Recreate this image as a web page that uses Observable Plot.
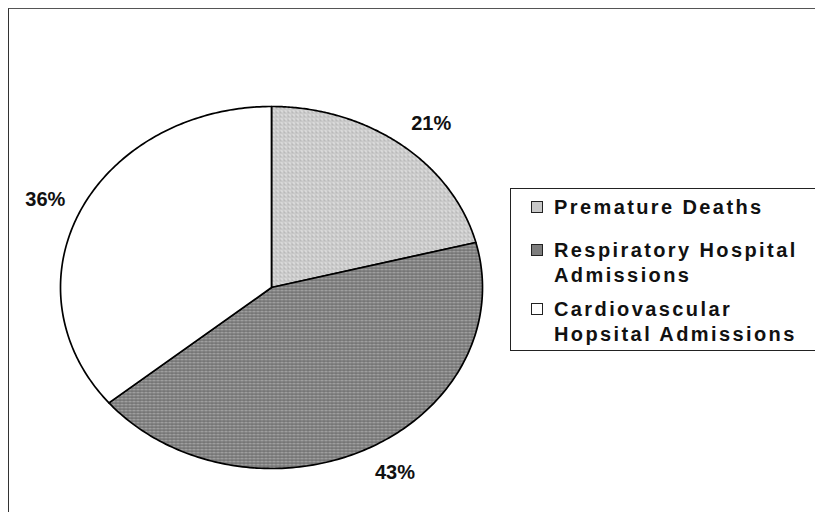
<!DOCTYPE html>
<html>
<head>
<meta charset="utf-8">
<script src="https://cdn.jsdelivr.net/npm/d3@7"></script>
<script src="https://cdn.jsdelivr.net/npm/@observablehq/plot@0.6"></script>
<style>
  html, body { margin: 0; padding: 0; background: #fff; }
  #wrap { position: relative; width: 815px; height: 512px; overflow: hidden; font-family: "Liberation Sans", Arial, sans-serif; }
  #frame { position: absolute; left: 8px; top: 8px; width: 900px; height: 600px; border-left: 1px solid #333; border-top: 1px solid #555; box-sizing: border-box; }
  #chart { position: absolute; left: 0; top: 0; }
  #legend { position: absolute; left: 510px; top: 188px; width: 330px; height: 163px; border: 1px solid #222; box-sizing: border-box; background: #fff; }
  .item { position: absolute; left: 20px; font-weight: bold; font-size: 20px; letter-spacing: 2.4px; color: #111; line-height: 25px; white-space: nowrap; }
  .sw { display: inline-block; width: 10px; height: 10px; border: 1px solid #222; margin-right: 11px; vertical-align: 1px; }
</style>
</head>
<body>
<div id="wrap">
  <div id="frame"></div>
  <div id="chart"></div>
  <div id="legend"></div>
</div>
<script>
// ---- data ----
const categories = ["Premature Deaths", "Respiratory Hospital Admissions", "Cardiovascular Hopsital Admissions"];
const legendLines = [["Premature Deaths"], ["Respiratory Hospital", "Admissions"], ["Cardiovascular", "Hopsital Admissions"]];
const shares = [21, 43, 36];
const labels = ["21%", "43%", "36%"];
const fills = ["url(#patLight)", "url(#patDark)", "#ffffff"];

// ---- layout ----
const W = 815, H = 512;
const cx = 271, cy = 287, rx = 211, ry = 181;

const pie = d3.pie().sort(null).value(d => d)(shares);
const slices = pie.map((p, i) => {
  const pts = [{x: 0, y: 0}];
  const n = 160;
  for (let k = 0; k <= n; k++) {
    const a = p.startAngle + (p.endAngle - p.startAngle) * k / n;
    pts.push({x: Math.sin(a), y: Math.cos(a)});
  }
  pts.push({x: 0, y: 0});
  return {name: categories[i], pts, mid: (p.startAngle + p.endAngle) / 2};
});
const labelK = 1.08;
const labelData = slices.map((s, i) => ({
  x: labelK * Math.sin(s.mid),
  y: labelK * Math.cos(s.mid),
  dy: -12 * Math.cos(s.mid),
  right: Math.sin(s.mid) >= 0,
  text: labels[i]
}));
const textOpts = {x: "x", y: "y", text: "text", fontSize: 20, fontWeight: "bold", fill: "#111",
  fontFamily: "Liberation Sans, Arial, sans-serif", style: {letterSpacing: "1.2px"}};

const plot = Plot.plot({
  width: W, height: H, margin: 0,
  style: {background: "transparent"},
  x: {axis: null, domain: [-1, 1], range: [cx - rx, cx + rx]},
  y: {axis: null, domain: [-1, 1], range: [cy + ry, cy - ry]},
  marks: [
    ...slices.map((s, i) => Plot.line(s.pts, {x: "x", y: "y", fill: fills[i], stroke: "#000", strokeWidth: 1.7, strokeLinejoin: "round", curve: "linear"})),
    ...labelData.map(d => Plot.text([d], {...textOpts, textAnchor: d.right ? "start" : "end", dy: d.dy}))
  ]
});

// patterns
const ns = "http://www.w3.org/2000/svg";
const patternDefs = `
    <pattern id="patLight" width="4" height="4" patternUnits="userSpaceOnUse">
      <rect width="4" height="4" fill="#d2d2d2"/>
      <rect x="0" y="0" width="1" height="1" fill="#a6a6a6"/>
      <rect x="2" y="1" width="1" height="1" fill="#b2b2b2"/>
      <rect x="1" y="2" width="1" height="1" fill="#efefef"/>
      <rect x="3" y="3" width="1" height="1" fill="#9e9e9e"/>
    </pattern>
    <pattern id="patDark" width="4" height="3" patternUnits="userSpaceOnUse">
      <rect width="4" height="3" fill="#969696"/>
      <rect x="0" y="0" width="4" height="1" fill="#666"/>
      <rect x="1" y="2" width="1" height="1" fill="#b5b5b5"/>
      <rect x="3" y="1" width="1" height="1" fill="#777"/>
    </pattern>`;
function addDefs(svg) {
  const defs = document.createElementNS(ns, "defs");
  defs.innerHTML = patternDefs;
  svg.insertBefore(defs, svg.firstChild);
}
addDefs(plot);
document.getElementById("chart").appendChild(plot);

// legend
const legend = document.getElementById("legend");
const tops = [6, 49, 108];
legendLines.forEach((lines, i) => {
  const div = document.createElement("div");
  div.className = "item";
  div.style.top = tops[i] + "px";
  const sw = document.createElement("span");
  sw.className = "sw";
  sw.innerHTML = `<svg width="10" height="10" style="display:block"><rect width="10" height="10" fill="${i === 0 ? '#c8c8c8' : i === 1 ? '#7e7e7e' : '#fff'}"/></svg>`;
  div.appendChild(sw);
  div.appendChild(document.createTextNode(lines[0]));
  for (let j = 1; j < lines.length; j++) {
    div.appendChild(document.createElement("br"));
    const s = document.createElement("span");
    s.style.paddingLeft = "23px";
    s.textContent = lines[j];
    div.appendChild(s);
  }
  legend.appendChild(div);
});
</script>
</body>
</html>
